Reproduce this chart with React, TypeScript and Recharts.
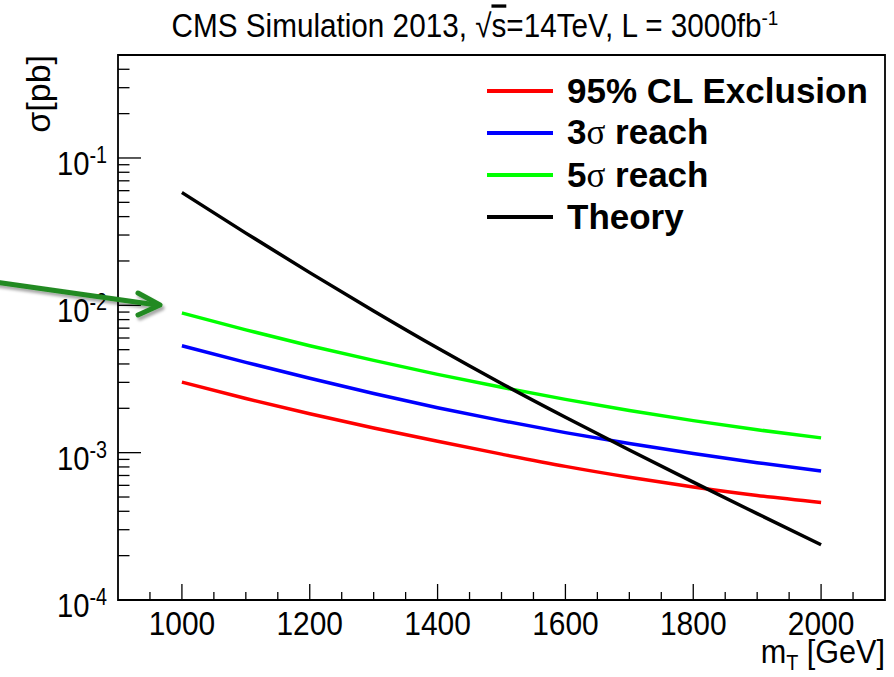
import React from 'react';
import { LineChart, Line, XAxis, YAxis, ReferenceArea, Legend, Label } from 'recharts';

// ---- data ----
const massPoints = [1000, 1100, 1200, 1300, 1400, 1500, 1600, 1700, 1800, 1900, 2000];
const exclusion95 = [0.00301, 0.00233, 0.001837, 0.001472, 0.001194, 0.000977, 0.000807, 0.000681, 0.000585, 0.000512, 0.000459];
const reach3sigma = [0.00532, 0.0041, 0.0032, 0.00252, 0.00202, 0.00165, 0.001368, 0.001153, 0.000986, 0.000855, 0.00075];
const reach5sigma = [0.00887, 0.00681, 0.00532, 0.00423, 0.0034, 0.00278, 0.0023, 0.00193, 0.00165, 0.00143, 0.00126];
const theory = [0.0583, 0.0309, 0.01667, 0.00916, 0.00513, 0.00295, 0.00174, 0.001042, 0.000631, 0.000386, 0.000237];

const seriesNames = ['95% CL Exclusion', '3σ reach', '5σ reach', 'Theory'];
const seriesColors = ['#ff0000', '#0000ff', '#00ff00', '#000000'];

const xTicks = [950, 1000, 1050, 1100, 1150, 1200, 1250, 1300, 1350, 1400, 1450, 1500, 1550, 1600, 1650, 1700, 1750, 1800, 1850, 1900, 1950, 2000, 2050];
const xLabelTicks = [1000, 1200, 1400, 1600, 1800, 2000];
const yTicks = [
  0.0001, 0.0002, 0.0003, 0.0004, 0.0005, 0.0006, 0.0007, 0.0008, 0.0009,
  0.001, 0.002, 0.003, 0.004, 0.005, 0.006, 0.007, 0.008, 0.009,
  0.01, 0.02, 0.03, 0.04, 0.05, 0.06, 0.07, 0.08, 0.09,
  0.1, 0.2, 0.3, 0.4,
];
const yDecades = [0.0001, 0.001, 0.01, 0.1];
const yDecadeExponents = ['-4', '-3', '-2', '-1'];

const titleMain = 'CMS Simulation 2013, ';
const titleRoot = 's';
const titleEnergy = '=14TeV, L = 3000fb';
const titleSup = '-1';

const data = massPoints.map((m, i) => ({
  m,
  excl: exclusion95[i],
  s3: reach3sigma[i],
  s5: reach5sigma[i],
  th: theory[i],
}));

const SANS = "'Liberation Sans', Arial, sans-serif";
const COND = 0.86;

const condense = (ax: number, k: number = COND) => `translate(${ax},0) scale(${k},1) translate(${-ax},0)`;

const XTick = (props: any) => {
  const { x, y, payload } = props;
  const v = payload.value;
  const major = xLabelTicks.includes(v);
  return (
    <g>
      <line x1={x} x2={x} y1={y} y2={y - (major ? 16 : 8)} stroke="#000" strokeWidth={1.3} />
      {major && (
        <text x={x} y={y + 35} transform={condense(x, 0.88)} textAnchor="middle" fontSize={34} fontFamily={SANS} fill="#000">
          {v}
        </text>
      )}
    </g>
  );
};

const YTick = (props: any) => {
  const { x, y, payload } = props;
  const v = payload.value;
  const idx = yDecades.findIndex((d) => Math.abs(d - v) / d < 1e-6);
  const major = idx >= 0;
  return (
    <g>
      <line x1={x} x2={x + (major ? 23 : 11.5)} y1={y} y2={y} stroke="#000" strokeWidth={1.3} />
      {major && (
        <text x={x - 11} y={y + 17} transform={condense(x - 11)} textAnchor="end" fontFamily={SANS} fill="#000">
          <tspan fontSize={34}>10</tspan>
          <tspan fontSize={23} dy={-12}>{yDecadeExponents[idx]}</tspan>
        </text>
      )}
    </g>
  );
};

const legendLabel = (name: string) => {
  const parts = name.split('σ');
  if (parts.length === 1) return name;
  return (
    <>
      {parts[0]}
      <span style={{ fontFamily: "'Liberation Serif', serif", fontWeight: 'normal' }}>σ</span>
      {parts[1]}
    </>
  );
};

const renderLegend = (props: any) => {
  const payload = [...(props.payload || [])].sort(
    (a: any, b: any) => seriesNames.indexOf(a.value) - seriesNames.indexOf(b.value)
  );
  return (
    <div>
      {payload.map((entry: any) => (
        <div key={entry.value} style={{ height: 42.2, display: 'flex', alignItems: 'center' }}>
          <svg width={66} height={6} style={{ display: 'block' }}>
            <line x1={0} x2={66} y1={3} y2={3} stroke={entry.color} strokeWidth={4} />
          </svg>
          <span
            style={{
              marginLeft: 14,
              fontFamily: SANS,
              fontWeight: 'bold',
              fontSize: 35,
              lineHeight: '42px',
              color: '#000',
              whiteSpace: 'nowrap',
            }}
          >
            {legendLabel(entry.value)}
          </span>
        </div>
      ))}
    </div>
  );
};

const XTitle = (props: any) => {
  const { viewBox } = props;
  const ax = viewBox.x + viewBox.width;
  return (
    <text x={ax} y={viewBox.y + 63} transform={condense(ax, 0.9)} textAnchor="end" fontFamily={SANS} fill="#000">
      <tspan fontSize={34}>m</tspan>
      <tspan fontSize={22} dy={7}>T</tspan>
      <tspan fontSize={34} dy={-7}> [GeV]</tspan>
    </text>
  );
};

const YTitle = (props: any) => {
  const { viewBox } = props;
  const tx = viewBox.x + 50;
  const ty = viewBox.y;
  return (
    <text x={tx} y={ty} transform={`rotate(-90 ${tx} ${ty})`} textAnchor="end" fontSize={34} fontFamily={SANS} fill="#000">
      σ[pb]
    </text>
  );
};

export default function App() {
  return (
    <div style={{ position: 'absolute', left: 0, top: 0, width: 894, height: 677, background: '#fff' }}>
      <LineChart width={894} height={677} data={data} margin={{ top: 55, right: 9, bottom: 0, left: 0 }}>
        <XAxis
          dataKey="m"
          type="number"
          domain={[900, 2100]}
          ticks={xTicks}
          interval={0}
          tick={<XTick />}
          tickLine={false}
          axisLine={false}
          tickSize={0}
          tickMargin={0}
          height={77}
          allowDataOverflow
        >
          <Label content={<XTitle />} />
        </XAxis>
        <YAxis
          type="number"
          scale="log"
          domain={[0.0001, 0.5]}
          ticks={yTicks}
          interval={0}
          tick={<YTick />}
          tickLine={false}
          axisLine={false}
          tickSize={0}
          tickMargin={0}
          width={118}
          allowDataOverflow
        >
          <Label content={<YTitle />} />
        </YAxis>
        <ReferenceArea x1={900} x2={2100} y1={0.0001} y2={0.5} stroke="#000" strokeWidth={1.8} fill="none" fillOpacity={0} ifOverflow="visible" />
        <Line type="monotone" dataKey="excl" name={seriesNames[0]} stroke={seriesColors[0]} strokeWidth={3.5} dot={false} isAnimationActive={false} />
        <Line type="monotone" dataKey="s3" name={seriesNames[1]} stroke={seriesColors[1]} strokeWidth={3.5} dot={false} isAnimationActive={false} />
        <Line type="monotone" dataKey="s5" name={seriesNames[2]} stroke={seriesColors[2]} strokeWidth={3.5} dot={false} isAnimationActive={false} />
        <Line type="monotone" dataKey="th" name={seriesNames[3]} stroke={seriesColors[3]} strokeWidth={3.5} dot={false} isAnimationActive={false} />
        <Legend
          layout="vertical"
          align="center"
          verticalAlign="middle"
          content={renderLegend}
          wrapperStyle={{ left: 487, top: 69.6, width: 'auto', height: 'auto' }}
        />
      </LineChart>
      <svg width={894} height={677} style={{ position: 'absolute', left: 0, top: 0, pointerEvents: 'none' }}>
        <defs>
          <filter id="arrowShadow" x="-20%" y="-50%" width="140%" height="200%">
            <feDropShadow dx={2} dy={3} stdDeviation={1.5} floodColor="#000" floodOpacity={0.35} />
          </filter>
        </defs>
        <text x={475} y={37} transform={condense(475, 0.9)} textAnchor="middle" fontFamily={SANS} fill="#000">
          <tspan fontSize={33}>{titleMain}√</tspan>
          <tspan fontSize={33} style={{ textDecoration: 'overline' }}>{titleRoot}</tspan>
          <tspan fontSize={33}>{titleEnergy}</tspan>
          <tspan fontSize={21} dy={-12}>{titleSup}</tspan>
        </text>
        <g filter="url(#arrowShadow)" stroke="#248a24" strokeWidth={5} fill="none" strokeLinecap="round" strokeLinejoin="round">
          <line x1={-5} y1={282} x2={157} y2={305} />
          <polyline points="138,293 160,305 138,315" />
        </g>
      </svg>
    </div>
  );
}
